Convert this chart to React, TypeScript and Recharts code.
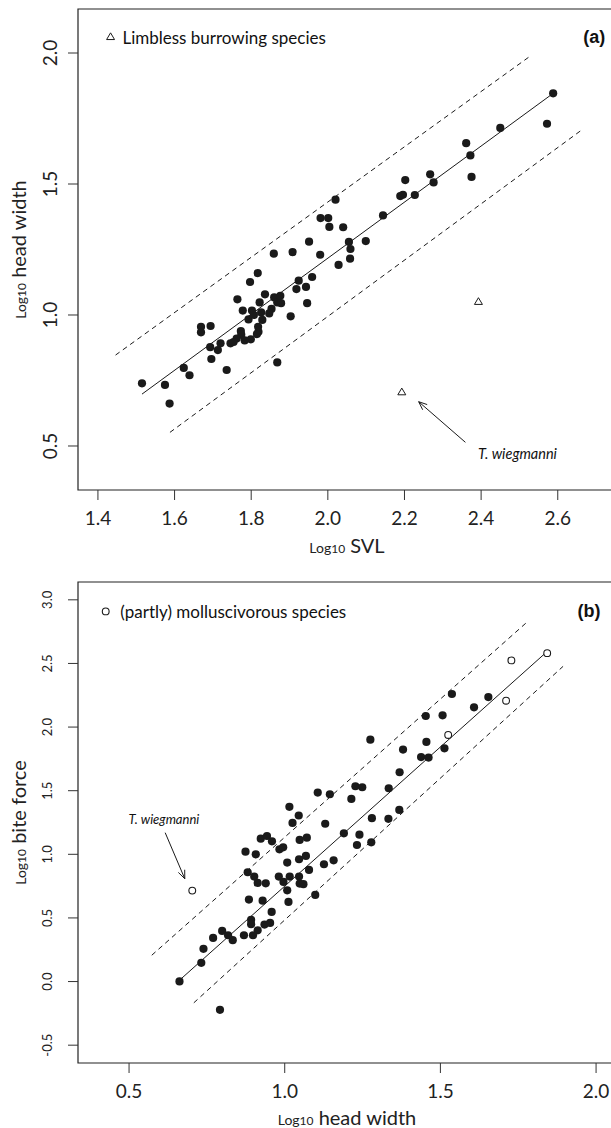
import React from "react";
import {
  ScatterChart,
  Scatter,
  XAxis,
  YAxis,
  ReferenceLine,
  ReferenceArea,
  ReferenceDot,
} from "recharts";

const FONT = "Lato, 'Open Sans', sans-serif";
const INK = "#1a1a1a";

// ---------------- Panel (a): Log10 SVL vs Log10 head width ----------------
const svlLimbed = [
  2.588, 2.572, 2.45, 2.361, 2.372, 2.375, 2.267, 2.276, 2.202, 2.189,
  2.196, 2.227, 2.144, 2.02, 1.981, 2.001, 2.004, 2.04, 1.951, 2.099,
  2.055, 2.059, 1.859, 1.908, 1.98, 2.028, 2.058, 1.817, 1.797, 1.924,
  1.959, 1.918, 1.943, 1.836, 1.764, 1.822, 1.86, 1.868, 1.876, 1.878,
  1.946, 1.778, 1.802, 1.826, 1.793, 1.807, 1.829, 1.853, 1.847, 1.903,
  1.669, 1.669, 1.694, 1.773, 1.774, 1.818, 1.819, 1.815, 1.799, 1.783,
  1.762, 1.746, 1.754, 1.72, 1.693, 1.713, 1.696, 1.736, 1.868, 1.624,
  1.639, 1.515, 1.575, 1.587,
];
const headLimbed = [
  1.846, 1.73, 1.714, 1.656, 1.609, 1.527, 1.537, 1.506, 1.515, 1.454,
  1.459, 1.458, 1.38, 1.44, 1.37, 1.37, 1.336, 1.335, 1.28, 1.282,
  1.279, 1.252, 1.234, 1.24, 1.23, 1.191, 1.215, 1.16, 1.126, 1.131,
  1.145, 1.099, 1.107, 1.079, 1.06, 1.048, 1.067, 1.048, 1.073, 1.045,
  1.045, 1.017, 1.017, 1.01, 0.983, 1.0, 0.981, 1.023, 1.006, 0.995,
  0.955, 0.934, 0.958, 0.939, 0.925, 0.955, 0.936, 0.927, 0.907, 0.903,
  0.91, 0.892, 0.897, 0.892, 0.877, 0.866, 0.832, 0.79, 0.819, 0.798,
  0.77, 0.739, 0.733, 0.662,
];
const svlLimbless = [2.393, 2.193];
const headLimbless = [1.05, 0.705];

const aXDomain = [1.348, 2.752];
const aYDomain = [0.332, 2.168];
const aXTicks = [1.4, 1.6, 1.8, 2.0, 2.2, 2.4, 2.6];
const aYTicks = [0.5, 1.0, 1.5, 2.0];

const aFitX = [1.515, 2.588];
const aFitY = [0.698, 1.846];
const aUpperX = [1.446, 2.527];
const aUpperY = [0.847, 1.987];
const aLowerX = [1.588, 2.666];
const aLowerY = [0.552, 1.71];
const aArrowX = [2.359, 2.237];
const aArrowY = [0.514, 0.669];
const aNoteX = 2.495;
const aNoteY = 0.473;
const aLegendX = [1.433, 1.464];
const aLegendY = 2.061;
const aTagX = 2.695;

// ---------------- Panel (b): Log10 head width vs Log10 bite force ----------------
const headOther = [
  1.537, 1.654, 1.608, 1.453, 1.507, 1.275, 1.455, 1.38, 1.513, 1.438,
  1.462, 1.369, 1.106, 1.145, 1.227, 1.249, 1.214, 1.334, 1.015, 1.045,
  1.025, 1.13, 1.28, 1.333, 1.368, 1.19, 1.24, 0.923, 0.943, 0.959,
  1.048, 1.071, 1.232, 1.278, 0.874, 0.907, 0.983, 0.995, 1.008, 1.046,
  1.068, 1.126, 1.157, 0.881, 0.902, 0.913, 0.939, 0.981, 0.996, 1.016,
  1.008, 1.046, 1.048, 1.06, 1.078, 1.098, 1.012, 0.885, 0.929, 0.958,
  0.892, 0.892, 0.913, 0.898, 0.935, 0.953, 0.869, 0.799, 0.77, 0.818,
  0.833, 0.739, 0.732, 0.662, 0.792,
];
const biteOther = [
  2.26, 2.236, 2.155, 2.087, 2.092, 1.901, 1.883, 1.823, 1.833, 1.764,
  1.76, 1.645, 1.485, 1.472, 1.535, 1.527, 1.435, 1.519, 1.373, 1.305,
  1.247, 1.24, 1.284, 1.279, 1.349, 1.165, 1.154, 1.123, 1.144, 1.102,
  1.113, 1.131, 1.073, 1.094, 1.021, 1.0, 1.039, 1.055, 0.935, 0.961,
  0.987, 0.922, 0.953, 0.859, 0.825, 0.775, 0.772, 0.825, 0.783, 0.825,
  0.717, 0.825, 0.77, 0.765, 0.877, 0.681, 0.626, 0.644, 0.636, 0.547,
  0.485, 0.451, 0.403, 0.364, 0.448, 0.461, 0.364, 0.398, 0.343, 0.364,
  0.325, 0.257, 0.147, 0.001, -0.222,
];
const headMollusc = [1.843, 1.728, 1.711, 1.525, 0.703];
const biteMollusc = [2.581, 2.524, 2.207, 1.938, 0.715];

const bXDomain = [0.336, 2.064];
const bYDomain = [-0.64, 3.14];
const bXTicks = [0.5, 1.0, 1.5, 2.0];
const bYTicks = [-0.5, 0.0, 0.5, 1.0, 1.5, 2.0, 2.5, 3.0];

const bFitX = [0.654, 1.843];
const bFitY = [-0.007, 2.594];
const bUpperX = [0.573, 1.777];
const bUpperY = [0.207, 2.822];
const bLowerX = [0.708, 1.894];
const bLowerY = [-0.167, 2.477];
const bArrowX = [0.616, 0.679];
const bArrowY = [1.17, 0.808];
const bNoteX = 0.612;
const bNoteY = 1.276;
const bLegendX = [0.425, 0.472];
const bLegendY = 2.909;
const bTagX = 1.977;

// ---------------- helpers ----------------
const pts = (xs: number[], ys: number[]) => xs.map((x, i) => ({ x, y: ys[i] }));
const seg = (xs: number[], ys: number[]) => [
  { x: xs[0], y: ys[0] },
  { x: xs[1], y: ys[1] },
];

const FilledDot = (p: any) => <circle cx={p.cx} cy={p.cy} r={4.1} fill={INK} />;
const OpenCircle = (p: any) => (
  <circle cx={p.cx} cy={p.cy} r={3.4} fill="#fff" stroke={INK} strokeWidth={1.1} />
);
const OpenTriangle = (p: any) => {
  const s = 4.2;
  return (
    <path
      d={`M${p.cx},${p.cy - s} L${p.cx + s * 0.95},${p.cy + s * 0.6} L${p.cx - s * 0.95},${p.cy + s * 0.6} Z`}
      fill="none"
      stroke={INK}
      strokeWidth={1}
    />
  );
};

const ArrowShape = (p: any) => {
  const { x1, y1, x2, y2 } = p;
  const ang = Math.atan2(y2 - y1, x2 - x1);
  const L = 9;
  const a = Math.PI / 8;
  const ax = x2 - L * Math.cos(ang - a);
  const ay = y2 - L * Math.sin(ang - a);
  const bx = x2 - L * Math.cos(ang + a);
  const by = y2 - L * Math.sin(ang + a);
  return (
    <g>
      <line x1={x1} y1={y1} x2={x2} y2={y2} stroke={INK} strokeWidth={1} />
      <polyline points={`${ax},${ay} ${x2},${y2} ${bx},${by}`} fill="none" stroke={INK} strokeWidth={1} />
    </g>
  );
};

const XTick = (p: any) => (
  <text x={p.x} y={p.y + 24.5} textAnchor="middle" fontFamily={FONT} fontSize={19} fill="#222">
    {Number(p.payload.value).toFixed(1)}
  </text>
);
const makeYTick = (size: number, off: number) => (p: any) => {
  const bx = p.x + off;
  return (
    <text
      x={bx}
      y={p.y}
      transform={`rotate(-90 ${bx} ${p.y})`}
      textAnchor="middle"
      fontFamily={FONT}
      fontSize={size}
      fill="#222"
    >
      {Number(p.payload.value).toFixed(1)}
    </text>
  );
};
const YTickA = makeYTick(19, -10.5);
const YTickB = makeYTick(13, -15.6);

const textAt = (content: string, opts: any) => (p: any) => (
  <text
    x={p.cx}
    y={p.cy}
    dominantBaseline="central"
    fontFamily={opts.family || FONT}
    fontSize={opts.size}
    fontStyle={opts.italic ? "italic" : "normal"}
    fontWeight={opts.bold ? "bold" : "normal"}
    textAnchor={opts.anchor || "start"}
    fill="#111"
  >
    {content}
  </text>
);

const W = 616;
const H = 560;
const MARGIN = { top: 9, right: 0, bottom: 0, left: 0 };

function PanelA() {
  return (
    <ScatterChart width={W} height={H} margin={MARGIN}>
      <XAxis
        type="number"
        dataKey="x"
        domain={aXDomain}
        ticks={aXTicks}
        allowDataOverflow
        axisLine={false}
        tickLine={{ stroke: "#333" }}
        tickSize={10}
        tickMargin={0}
        height={70}
        tick={XTick}
        interval={0}
      />
      <YAxis
        type="number"
        dataKey="y"
        domain={aYDomain}
        ticks={aYTicks}
        allowDataOverflow
        axisLine={false}
        tickLine={{ stroke: "#333" }}
        tickSize={10}
        tickMargin={0}
        width={78}
        tick={YTickA}
        interval={0}
      />
      <ReferenceArea
        x1={aXDomain[0]}
        x2={aXDomain[1]}
        y1={aYDomain[0]}
        y2={aYDomain[1]}
        fill="none"
        fillOpacity={0}
        stroke="#222"
        strokeWidth={1.2}
        ifOverflow="visible"
      />
      <ReferenceLine segment={seg(aUpperX, aUpperY)} stroke={INK} strokeDasharray="5 4" strokeWidth={1} />
      <ReferenceLine segment={seg(aLowerX, aLowerY)} stroke={INK} strokeDasharray="5 4" strokeWidth={1} />
      <ReferenceLine segment={seg(aFitX, aFitY)} stroke={INK} strokeWidth={1} />
      <ReferenceLine segment={seg(aArrowX, aArrowY)} shape={ArrowShape} />
      <Scatter data={pts(svlLimbed, headLimbed)} shape={FilledDot} isAnimationActive={false} />
      <Scatter data={pts(svlLimbless, headLimbless)} shape={OpenTriangle} isAnimationActive={false} />
      <ReferenceDot x={aLegendX[0]} y={aLegendY} r={4} shape={OpenTriangle} />
      <ReferenceDot
        x={aLegendX[1]}
        y={aLegendY}
        r={1}
        shape={textAt("Limbless burrowing species", { size: 17 })}
      />
      <ReferenceDot
        x={aTagX}
        y={aLegendY}
        r={1}
        shape={textAt("(a)", { size: 18, bold: true, anchor: "middle", family: "'Liberation Sans', Arial, sans-serif" })}
      />
      <ReferenceDot
        x={aNoteX}
        y={aNoteY}
        r={1}
        shape={textAt("T. wiegmanni", { size: 14.5, italic: true, anchor: "middle" })}
      />
    </ScatterChart>
  );
}

function PanelB() {
  return (
    <ScatterChart width={W} height={H} margin={MARGIN}>
      <XAxis
        type="number"
        dataKey="x"
        domain={bXDomain}
        ticks={bXTicks}
        allowDataOverflow
        axisLine={false}
        tickLine={{ stroke: "#333" }}
        tickSize={10}
        tickMargin={0}
        height={70}
        tick={XTick}
        interval={0}
      />
      <YAxis
        type="number"
        dataKey="y"
        domain={bYDomain}
        ticks={bYTicks}
        allowDataOverflow
        axisLine={false}
        tickLine={{ stroke: "#333" }}
        tickSize={10}
        tickMargin={0}
        width={78}
        tick={YTickB}
        interval={0}
      />
      <ReferenceArea
        x1={bXDomain[0]}
        x2={bXDomain[1]}
        y1={bYDomain[0]}
        y2={bYDomain[1]}
        fill="none"
        fillOpacity={0}
        stroke="#222"
        strokeWidth={1.2}
        ifOverflow="visible"
      />
      <ReferenceLine segment={seg(bUpperX, bUpperY)} stroke={INK} strokeDasharray="5 4" strokeWidth={1} />
      <ReferenceLine segment={seg(bLowerX, bLowerY)} stroke={INK} strokeDasharray="5 4" strokeWidth={1} />
      <ReferenceLine segment={seg(bFitX, bFitY)} stroke={INK} strokeWidth={1} />
      <ReferenceLine segment={seg(bArrowX, bArrowY)} shape={ArrowShape} />
      <Scatter data={pts(headOther, biteOther)} shape={FilledDot} isAnimationActive={false} />
      <Scatter data={pts(headMollusc, biteMollusc)} shape={OpenCircle} isAnimationActive={false} />
      <ReferenceDot x={bLegendX[0]} y={bLegendY} r={3} shape={OpenCircle} />
      <ReferenceDot
        x={bLegendX[1]}
        y={bLegendY}
        r={1}
        shape={textAt("(partly) molluscivorous species", { size: 17 })}
      />
      <ReferenceDot
        x={bTagX}
        y={bLegendY}
        r={1}
        shape={textAt("(b)", { size: 18, bold: true, anchor: "middle", family: "'Liberation Sans', Arial, sans-serif" })}
      />
      <ReferenceDot
        x={bNoteX}
        y={bNoteY}
        r={1}
        shape={textAt("T. wiegmanni", { size: 13, italic: true, anchor: "middle" })}
      />
    </ScatterChart>
  );
}

function AxisTitles() {
  const small = 14;
  const sub = 12;
  const big = 20;
  return (
    <svg
      width={611}
      height={1128}
      style={{ position: "absolute", left: 0, top: 0, pointerEvents: "none" }}
    >
      <text x={347} y={553} textAnchor="middle" fontFamily={FONT} fill="#222">
        <tspan fontSize={small}>Log</tspan>
        <tspan fontSize={sub}>10</tspan>
        <tspan fontSize={big}> SVL</tspan>
      </text>
      <text
        x={26}
        y={249.5}
        transform="rotate(-90 26 249.5)"
        textAnchor="middle"
        fontFamily={FONT}
        fill="#222"
      >
        <tspan fontSize={small}>Log</tspan>
        <tspan fontSize={sub}>10</tspan>
        <tspan fontSize={big}> head width</tspan>
      </text>
      <text x={347} y={1125} textAnchor="middle" fontFamily={FONT} fill="#222">
        <tspan fontSize={small}>Log</tspan>
        <tspan fontSize={sub}>10</tspan>
        <tspan fontSize={big}> head width</tspan>
      </text>
      <text
        x={26}
        y={822.5}
        transform="rotate(-90 26 822.5)"
        textAnchor="middle"
        fontFamily={FONT}
        fill="#222"
      >
        <tspan fontSize={small}>Log</tspan>
        <tspan fontSize={sub}>10</tspan>
        <tspan fontSize={big}> bite force</tspan>
      </text>
    </svg>
  );
}

export default function App() {
  return (
    <div
      style={{
        position: "absolute",
        left: 0,
        top: 0,
        width: 611,
        height: 1128,
        overflow: "hidden",
        background: "#fff",
      }}
    >
      <div style={{ position: "absolute", left: 0, top: 0 }}>
        <PanelA />
      </div>
      <div style={{ position: "absolute", left: 0, top: 573 }}>
        <PanelB />
      </div>
      <AxisTitles />
    </div>
  );
}
